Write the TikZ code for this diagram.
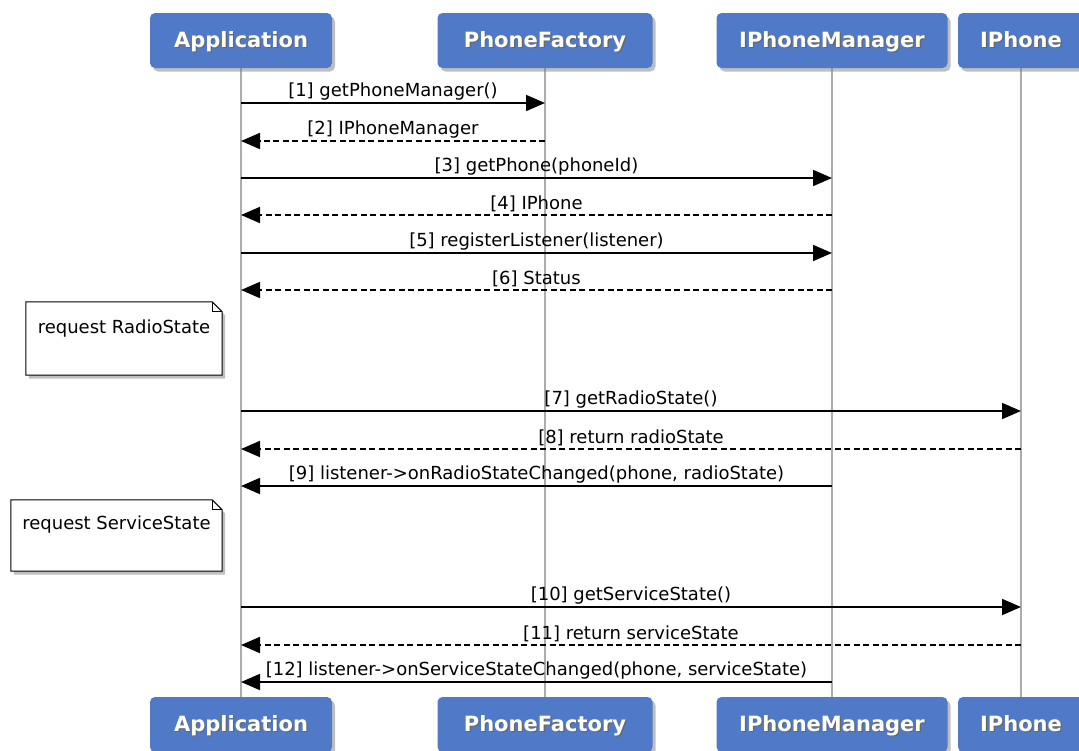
\documentclass[tikz,border=0pt]{standalone}
\usepackage{fontspec}
\setmainfont{DejaVu Sans}
\usetikzlibrary{arrows.meta,shadows,calc,backgrounds}
\definecolor{boxblue}{RGB}{80,122,199}
\newcommand{\hdrtext}[1]{\makebox[0pt][l]{\hspace{1.2pt}\raisebox{-1.2pt}{\textcolor{black!60}{#1}}}#1}
\begin{document}
\begin{tikzpicture}[x=1pt,y=-1pt,
  part/.style={fill=boxblue, rounded corners=5pt, minimum height=55pt, inner sep=0pt,
    text height=17pt, text depth=3pt,
    text=white, font=\fontsize{21}{25}\selectfont\bfseries,
    drop shadow={shadow xshift=3pt,shadow yshift=-3.5pt,opacity=0.5}},
  life/.style={draw=gray!65, line width=2pt},
  call/.style={line width=1.8pt, -{Triangle[length=19pt,width=16pt]}},
  reply/.style={call, dash pattern=on 6pt off 3.5pt},
  lbl/.style={midway, above=2pt, inner sep=0pt, font=\fontsize{18}{22}\selectfont},
  notebox/.style={inner xsep=0pt, inner ysep=0pt, font=\fontsize{18}{22}\selectfont},
  noteline/.style={draw=black, line width=1pt, fill=white,
    drop shadow={shadow xshift=3pt,shadow yshift=-3.5pt,opacity=0.5}}
]
\useasboundingbox (0,0) rectangle (1079,750);

% participants (top)
\node[part, minimum width=182pt] (appT) at (241,40.5) {\hdrtext{Application}};
\node[part, minimum width=215pt] (pfT) at (545,40.5) {\hdrtext{PhoneFactory}};
\node[part, minimum width=231pt] (pmT) at (832,40.5) {\hdrtext{IPhoneManager}};
\node[part, minimum width=126pt] (ipT) at (1021,40.5) {\hdrtext{IPhone}};
% participants (bottom)
\node[part, minimum width=182pt] (appB) at (241,724.5) {\hdrtext{Application}};
\node[part, minimum width=215pt] (pfB) at (545,724.5) {\hdrtext{PhoneFactory}};
\node[part, minimum width=231pt] (pmB) at (832,724.5) {\hdrtext{IPhoneManager}};
\node[part, minimum width=126pt] (ipB) at (1021,724.5) {\hdrtext{IPhone}};

% lifelines
\begin{scope}[on background layer]
\draw[life] (appT.south) -- (appB.north);
\draw[life] (pfT.south) -- (pfB.north);
\draw[life] (pmT.south) -- (pmB.north);
\draw[life] (ipT.south) -- (ipB.north);
\end{scope}

% notes
\node[notebox, minimum width=196pt, text height=31pt, text depth=42pt] (n1) at (124,338.5) {request RadioState};
\node[notebox, minimum width=211pt, text height=29pt, text depth=42pt] (n2) at (116.5,535.5) {request ServiceState};
\begin{scope}[on background layer]
\foreach \n in {n1,n2}{
  \draw[noteline] (\n.north west) -- ($(\n.north east)+(-10,0)$) -- ($(\n.north east)+(0,10)$)
     -- (\n.south east) -- (\n.south west) -- cycle;
  \draw[line width=0.8pt] ($(\n.north east)+(-10,0)$) -- ($(\n.north east)+(-10,10)$) -- ($(\n.north east)+(0,10)$);
}
\end{scope}

% messages
\draw[call]  (appT |- 0,103) -- (pfT |- 0,103) node[lbl] {[1] getPhoneManager()};
\draw[reply] (pfT |- 0,141) -- (appT |- 0,141) node[lbl] {[2] IPhoneManager};
\draw[call]  (appT |- 0,178) -- (pmT |- 0,178) node[lbl] {[3] getPhone(phoneId)};
\draw[reply] (pmT |- 0,215) -- (appT |- 0,215) node[lbl] {[4] IPhone};
\draw[call]  (appT |- 0,253) -- (pmT |- 0,253) node[lbl] {[5] registerListener(listener)};
\draw[reply] (pmT |- 0,290) -- (appT |- 0,290) node[lbl] {[6] Status};
\draw[call]  (appT |- 0,411) -- (ipT |- 0,411) node[lbl] {[7] getRadioState()};
\draw[reply] (ipT |- 0,449) -- (appT |- 0,449) node[lbl] {[8] return radioState};
\draw[call]  (pmT |- 0,486) -- (appT |- 0,486) node[lbl] {[9] listener->onRadioStateChanged(phone, radioState)};
\draw[call]  (appT |- 0,607) -- (ipT |- 0,607) node[lbl] {[10] getServiceState()};
\draw[reply] (ipT |- 0,645) -- (appT |- 0,645) node[lbl] {[11] return serviceState};
\draw[call]  (pmT |- 0,682) -- (appT |- 0,682) node[lbl] {[12] listener->onServiceStateChanged(phone, serviceState)};
\end{tikzpicture}
\end{document}
